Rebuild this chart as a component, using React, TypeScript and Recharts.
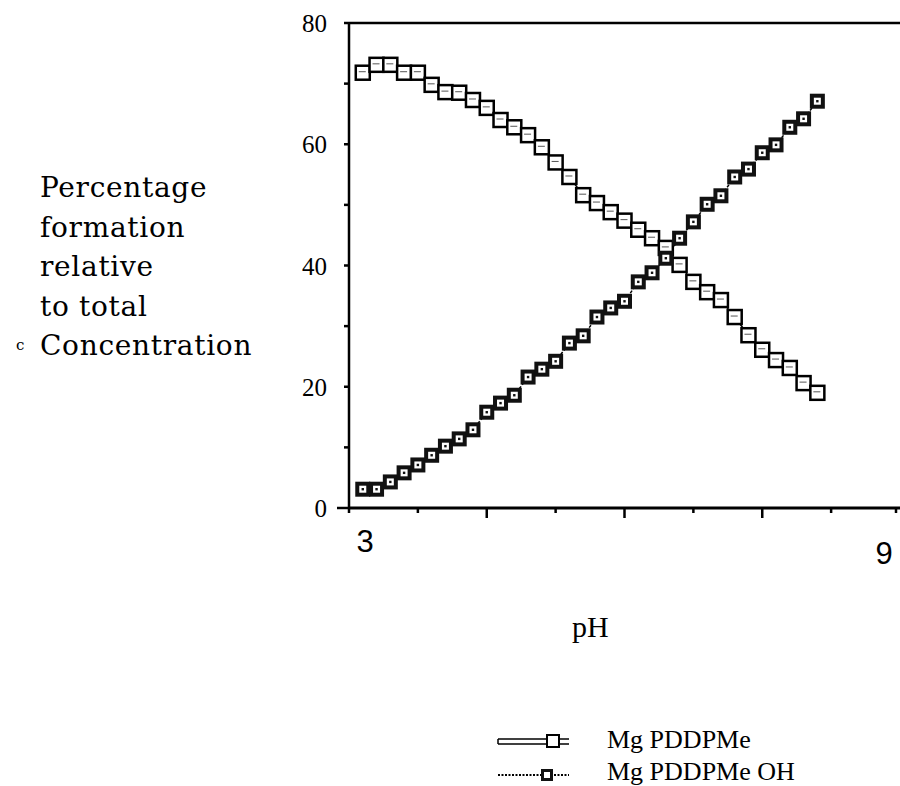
import React from 'react';
import { LineChart, Line, XAxis, YAxis, ReferenceLine } from 'recharts';

const phValues = [
  3.15, 3.3, 3.45, 3.6, 3.75, 3.9, 4.05, 4.2, 4.35, 4.5, 4.65, 4.8,
  4.95, 5.1, 5.25, 5.4, 5.55, 5.7, 5.85, 6.0, 6.15, 6.3, 6.45, 6.6,
  6.75, 6.9, 7.05, 7.2, 7.35, 7.5, 7.65, 7.8, 7.95, 8.1,
];

const mgPddpme = [
  71.8, 73.1, 73.1, 71.8, 71.8, 69.8, 68.6, 68.5, 67.3, 66.0, 64.0, 62.8,
  61.5, 59.5, 57.0, 54.6, 51.6, 50.3, 48.8, 47.4, 45.9, 44.5, 42.9, 40.1,
  37.3, 35.6, 34.3, 31.5, 28.5, 26.1, 24.4, 23.1, 20.6, 19.0,
];

const mgPddpmeOh = [
  3.1, 3.1, 4.3, 5.8, 7.1, 8.7, 10.2, 11.4, 12.9, 15.8, 17.3, 18.6,
  21.6, 22.9, 24.2, 27.2, 28.4, 31.5, 33.0, 34.1, 37.3, 38.8, 41.2, 44.5,
  47.2, 50.1, 51.5, 54.6, 55.9, 58.6, 59.9, 62.8, 64.2, 67.1,
];

const xTicks = [3, 3.75, 4.5, 5.25, 6, 6.75, 7.5, 8.25, 9];
const xMajor = [4.5, 6, 7.5];
const xLabels = [3, 9];
const yTicks = [0, 10, 20, 30, 40, 50, 60, 70, 80];
const yLabels = [0, 20, 40, 60, 80];

const seriesNames = ['Mg PDDPMe', 'Mg PDDPMe OH'];
const axisLabelLines = ['Percentage', 'formation', 'relative', 'to total', 'Concentration'];

const data = phValues.map((ph, i) => ({ ph, a: mgPddpme[i], b: mgPddpmeOh[i] }));

const OpenSquare = (props: any) => {
  const { cx, cy, index } = props;
  if (cx == null || cy == null) return <g key={index} />;
  return (
    <g key={index}>
      <rect x={cx - 7} y={cy - 7} width={14} height={14} fill="#fff" stroke="#000" strokeWidth={2.5} />
      <line x1={cx - 4} y1={cy - 1} x2={cx + 3} y2={cy - 1} stroke="#555" strokeWidth={1} />
    </g>
  );
};

const DarkSquare = (props: any) => {
  const { cx, cy, index } = props;
  if (cx == null || cy == null) return <g key={index} />;
  return (
    <g key={index}>
      <rect x={cx - 7.5} y={cy - 7.5} width={15} height={15} fill="#111" />
      <rect x={cx - 3.5} y={cy - 3.5} width={7} height={7} fill="#fff" />
      <rect x={cx - 1.2} y={cy - 1.2} width={2.4} height={2.4} fill="#111" />
    </g>
  );
};

const XTick = (props: any) => {
  const { x, y, payload } = props;
  const v = payload.value;
  const major = xMajor.includes(v);
  return (
    <g>
      <line x1={x} y1={y} x2={x} y2={y + (major ? 10 : 5)} stroke="#000" strokeWidth={2.5} />
      {xLabels.includes(v) && (
        <text
          x={v === 3 ? x + 16 : x - 12}
          y={v === 3 ? y + 44 : y + 56}
          textAnchor="middle"
          fontFamily="Liberation Sans"
          fontSize={31}
          fill="#000"
        >
          {v}
        </text>
      )}
    </g>
  );
};

const YTick = (props: any) => {
  const { x, y, payload } = props;
  const v = payload.value;
  return (
    <g>
      <line x1={x - (v === 0 ? 12 : 5)} y1={y} x2={x} y2={y} stroke="#000" strokeWidth={2.5} />
      {yLabels.includes(v) && (
        <text x={x - 22} y={y + 9} textAnchor="end" fontFamily="Liberation Serif" fontSize={25} fill="#000">
          {v}
        </text>
      )}
    </g>
  );
};

const App = () => {
  return (
    <div
      style={{
        position: 'absolute',
        left: 0,
        top: 0,
        width: 900,
        height: 786,
        background: '#fff',
        overflow: 'hidden',
        fontFamily: 'DejaVu Serif',
        color: '#000',
      }}
    >
      <LineChart width={900} height={786} data={data} margin={{ top: 23, right: 0, left: 289, bottom: 208 }}>
        <XAxis
          dataKey="ph"
          type="number"
          domain={[3, 9]}
          ticks={xTicks}
          height={70}
          tickSize={0}
          tickMargin={0}
          tickLine={false}
          tick={<XTick />}
          axisLine={{ stroke: '#000', strokeWidth: 3 }}
          allowDataOverflow
        />
        <YAxis
          domain={[0, 80]}
          ticks={yTicks}
          width={60}
          tickSize={0}
          tickMargin={0}
          tickLine={false}
          tick={<YTick />}
          axisLine={{ stroke: '#000', strokeWidth: 2.5 }}
          allowDataOverflow
        />
        <ReferenceLine y={80} stroke="#000" strokeWidth={2.5} />
        <Line
          dataKey="a"
          stroke="#000"
          strokeWidth={1.5}
          dot={<OpenSquare />}
          isAnimationActive={false}
        />
        <Line
          dataKey="b"
          stroke="#000"
          strokeWidth={1.5}
          strokeDasharray="3 2"
          dot={<DarkSquare />}
          isAnimationActive={false}
        />
      </LineChart>

      <div style={{ position: 'absolute', left: 40, top: 168, fontSize: 28, lineHeight: '39.5px', letterSpacing: 0.7 }}>
        {axisLabelLines.map((t) => (
          <div key={t}>{t}</div>
        ))}
      </div>
      <div style={{ position: 'absolute', left: 16, top: 336, fontSize: 15 }}>c</div>

      <div style={{ position: 'absolute', left: 572, top: 610, fontSize: 30, fontFamily: 'Liberation Serif' }}>pH</div>

      <div style={{ position: 'absolute', left: 497, top: 726 }}>
        <svg width={80} height={30}>
          <line x1={1} y1={13} x2={72} y2={13} stroke="#000" strokeWidth={1.5} />
          <line x1={1} y1={18} x2={72} y2={18} stroke="#000" strokeWidth={1.5} />
          <line x1={1} y1={13} x2={1} y2={18} stroke="#000" strokeWidth={1.5} />
          <rect x={50} y={9} width={12} height={12} fill="#fff" stroke="#000" strokeWidth={2} />
        </svg>
      </div>
      <div style={{ position: 'absolute', left: 607, top: 725, fontSize: 26, lineHeight: '30px', fontFamily: 'Liberation Serif' }}>
        {seriesNames[0]}
      </div>

      <div style={{ position: 'absolute', left: 497, top: 760 }}>
        <svg width={80} height={30}>
          <line x1={1} y1={15} x2={72} y2={15} stroke="#000" strokeWidth={2} strokeDasharray="2 1.5" />
          <rect x={44} y={9} width={12} height={12} fill="#111" />
          <rect x={47} y={12} width={6} height={6} fill="#fff" />
        </svg>
      </div>
      <div style={{ position: 'absolute', left: 607, top: 757, fontSize: 26, lineHeight: '30px', fontFamily: 'Liberation Serif' }}>
        {seriesNames[1]}
      </div>
    </div>
  );
};

export default App;
